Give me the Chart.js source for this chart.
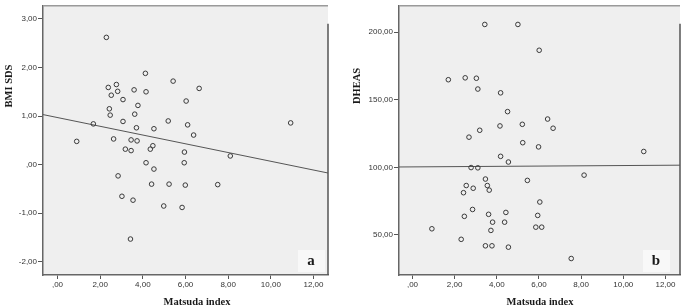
<!DOCTYPE html>
<html>
<head>
<meta charset="utf-8">
<script src="https://cdn.jsdelivr.net/npm/chart.js@4.4.1/dist/chart.umd.min.js"></script>
<style>
  body { margin:0; background:#fff; }
  #wrap { position:relative; width:685px; height:308px; }
  .pane { position:absolute; top:0; height:308px; }
</style>
</head>
<body>
<div id="wrap">
  <div class="pane" style="left:0;width:340px"><canvas id="graficoBmi" width="340" height="308"></canvas></div>
  <div class="pane" style="left:340px;width:345px"><canvas id="graficoDheas" width="345" height="308"></canvas></div>
</div>
<script>
// painel a: Matsuda index x BMI SDS
const matsudaA = [2.29,0.90,1.68,2.38,2.76,2.52,2.82,3.07,2.43,2.47,3.59,4.12,4.15,3.77,3.62,3.07,3.70,4.52,5.42,6.03,6.64,5.19,6.10,6.38,10.93,2.63,3.45,3.73,3.18,3.45,4.35,4.47,5.95,8.10,4.15,5.94,4.52,2.84,4.41,5.23,5.99,7.51,3.02,3.54,4.98,5.84,3.42];
const bmiSds   = [2.62,0.48,0.84,1.59,1.65,1.43,1.51,1.34,1.15,1.02,1.54,1.88,1.50,1.22,1.04,0.89,0.76,0.74,1.72,1.31,1.57,0.90,0.82,0.61,0.86,0.53,0.51,0.49,0.32,0.29,0.32,0.39,0.26,0.18,0.04,0.04,-0.09,-0.23,-0.40,-0.40,-0.42,-0.41,-0.65,-0.73,-0.85,-0.88,-1.53];
const fitBmi   = [0.97, -0.09]; // intercepto, inclinação
const bmiTicks = [-2, -1, 0, 1, 2, 3];

// painel b: Matsuda index x DHEAS
const matsudaB = [3.43,5.00,6.01,1.70,2.50,3.03,3.10,4.18,4.51,6.41,6.67,5.21,4.15,3.19,2.68,5.23,5.98,10.97,4.18,4.55,2.78,3.10,3.46,5.45,8.14,2.55,3.55,2.88,3.64,2.42,6.04,2.85,4.43,3.61,5.94,2.46,3.80,4.37,5.85,6.13,0.92,3.72,2.31,3.46,3.77,4.55,7.53];
const dheas    = [205.8,205.8,186.7,164.9,166.3,166.0,158.0,155.2,141.3,135.8,129.0,131.9,130.7,127.5,122.4,118.3,115.2,111.8,108.2,104.0,99.9,99.7,91.4,90.4,94.3,86.6,86.6,84.6,83.2,81.3,74.4,68.9,66.7,65.3,64.5,63.8,59.5,59.5,55.8,55.8,54.6,53.4,46.8,42.0,42.0,41.0,32.6];
const fitDheas = [100.4, 0.1];
const dheasTicks = [50, 100, 150, 200];

const xTicks = [0, 2, 4, 6, 8, 10, 12];

function virgula(v) {
    let s = Math.abs(v).toFixed(2).replace('.', ',');
    if (s.startsWith('0,')) s = s.slice(1);
    return (v < 0 ? '-' : '') + s;
}

// fundo cinza, bordas, letra do painel e títulos dos eixos
const moldura = {
    id: 'moldura',
    beforeDraw(chart) {
        const {ctx, chartArea: a} = chart;
        ctx.save();
        ctx.fillStyle = '#efefef';
        ctx.fillRect(a.left, a.top, a.right - a.left, a.bottom - a.top);
        ctx.restore();
    },
    afterDraw(chart, args, opts) {
        const {ctx, chartArea: a} = chart;
        ctx.save();
        ctx.lineWidth = 1.5;
        ctx.strokeStyle = '#9a9a9a';
        ctx.beginPath(); ctx.moveTo(a.left, a.top); ctx.lineTo(a.right, a.top); ctx.stroke();
        ctx.strokeStyle = '#555';
        ctx.beginPath(); ctx.moveTo(a.right, a.top + 18); ctx.lineTo(a.right, a.bottom); ctx.stroke();

        ctx.fillStyle = '#f8f8f8';
        ctx.fillRect(a.right - opts.letraDx - 13, a.bottom - 25, 27, 22);
        ctx.fillStyle = '#1a1a1a';
        ctx.font = 'bold 15px "Liberation Serif"';
        ctx.textAlign = 'center';
        ctx.textBaseline = 'middle';
        ctx.fillText(opts.letra, a.right - opts.letraDx, a.bottom - 14);

        ctx.font = 'bold 10.5px "Liberation Serif"';
        ctx.fillText('Matsuda index', opts.xTituloX, 302);

        ctx.translate(opts.tituloX, opts.tituloY);
        ctx.rotate(-Math.PI / 2);
        ctx.fillText(opts.titulo, 0, 0);
        ctx.restore();
    }
};

function montaGrafico(id, xs, ys, fit, yTicks, cfg) {
    const pontos = xs.map((x, i) => ({x: x, y: ys[i]}));
    const reta = [cfg.xMin, cfg.xMax].map(x => ({x: x, y: fit[0] + fit[1] * x}));
    return new Chart(document.getElementById(id).getContext('2d'), {
        type: 'scatter',
        data: {
            datasets: [{
                data: pontos,
                pointRadius: 2.3,
                pointBorderWidth: 1,
                pointBorderColor: '#3a3a3a',
                pointBackgroundColor: 'rgba(0,0,0,0)'
            }, {
                data: reta,
                showLine: true,
                pointRadius: 0,
                borderColor: '#555',
                borderWidth: 1
            }]
        },
        plugins: [moldura],
        options: {
            responsive: false,
            animation: false,
            layout: {padding: {top: 1, right: cfg.padRight, left: 0, bottom: 0}},
            plugins: {
                legend: {display: false},
                tooltip: {enabled: false},
                moldura: {letra: cfg.letra, letraDx: cfg.letraDx, titulo: cfg.titulo, tituloX: cfg.tituloX, tituloY: 86, xTituloX: cfg.xTituloX}
            },
            scales: {
                x: {
                    type: 'linear',
                    min: cfg.xMin, max: cfg.xMax,
                    afterFit: s => { s.height = 33; },
                    afterBuildTicks: s => { s.ticks = xTicks.map(v => ({value: v})); },
                    ticks: {callback: virgula, font: {family: 'Liberation Sans', size: 8}, color: '#333', padding: 1, maxRotation: 0},
                    grid: {drawOnChartArea: false, tickLength: 4, tickColor: '#555'},
                    border: {color: '#666', width: 1.5}
                },
                y: {
                    min: cfg.yMin, max: cfg.yMax,
                    afterFit: s => { s.width = cfg.yWidth; },
                    afterBuildTicks: s => { s.ticks = yTicks.map(v => ({value: v})); },
                    ticks: {autoSkip: false, callback: virgula, font: {family: 'Liberation Sans', size: 8}, color: '#333', padding: 1},
                    grid: {drawOnChartArea: false, tickLength: 5, tickColor: '#555'},
                    border: {color: '#666', width: 1.5}
                }
            }
        }
    });
}

montaGrafico('graficoBmi', matsudaA, bmiSds, fitBmi, bmiTicks, {
    xMin: -0.68, xMax: 12.68, yMin: -2.27, yMax: 3.27,
    yWidth: 43, padRight: 12, letra: 'a', letraDx: 17, titulo: 'BMI SDS', tituloX: 9, xTituloX: 197
});
montaGrafico('graficoDheas', matsudaB, dheas, fitDheas, dheasTicks, {
    xMin: -0.64, xMax: 12.69, yMin: 20.4, yMax: 219.6,
    yWidth: 59, padRight: 2, letra: 'b', letraDx: 24, titulo: 'DHEAS', tituloX: 17, xTituloX: 200
});
</script>
</body>
</html>
